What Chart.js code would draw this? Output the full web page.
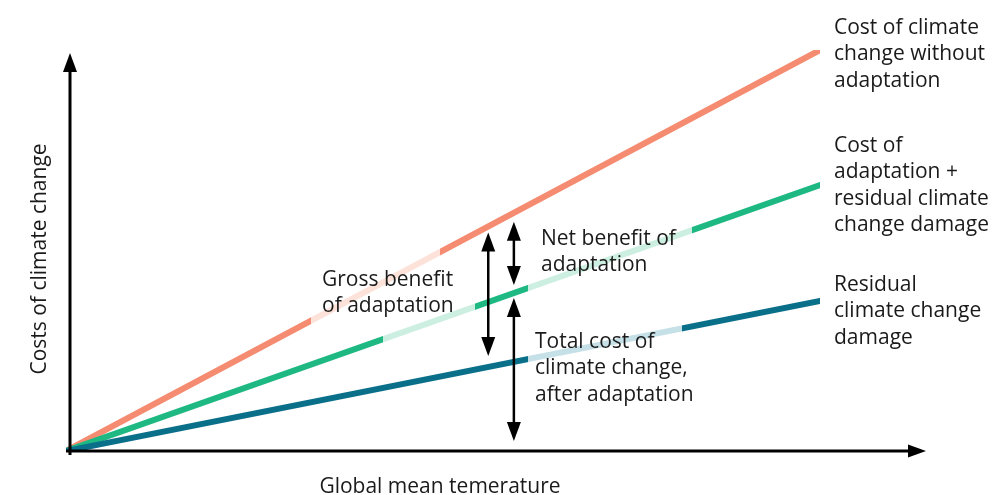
<!DOCTYPE html>
<html>
<head>
<meta charset="utf-8">
<script src="https://cdn.jsdelivr.net/npm/chart.js@4.4.1/dist/chart.umd.min.js"></script>
<style>
  html, body { margin: 0; padding: 0; background: #fff; }
  #wrap { width: 995px; height: 495px; }
</style>
</head>
<body>
<div id="wrap"><canvas id="myChart" width="995" height="495"></canvas></div>
<script>
// temperature (x) and cost (y), arbitrary units
let temp = [0, 100]
let costNoAdapt = [0, 100]
let costAdaptResidual = [0, 66.3]
let costResidual = [0, 37.4]

// x ranges where the lines sit behind a text label (faded)
let fadeNoAdapt = [[32.5, 49.6]]
let fadeAdaptResidual = [[42.0, 54.2], [61.3, 83.0]]
let fadeResidual = [[61.3, 81.7]]

// x position of the benefit arrows
let grossX = 56.0
let netX = 59.4

const FONT = '"Open Sans", "Noto Sans", sans-serif'

function pts(ys) {
    return temp.map((t, i) => ({ x: t, y: ys[i] }))
}

function fadedStroke(color, pale, ranges) {
    return function (ctx) {
        const chart = ctx.chart
        const area = chart.chartArea
        if (!area) return color
        const xs = chart.scales.x
        const g = chart.ctx.createLinearGradient(area.left - 10, 0, area.right + 10, 0)
        const w = area.right - area.left + 20
        const f = v => Math.min(1, Math.max(0, (xs.getPixelForValue(v) - area.left + 10) / w))
        g.addColorStop(0, color)
        ranges.forEach(r => {
            g.addColorStop(f(r[0]), color)
            g.addColorStop(f(r[0]), pale)
            g.addColorStop(f(r[1]), pale)
            g.addColorStop(f(r[1]), color)
        })
        g.addColorStop(1, color)
        return g
    }
}

function arrowHead(c, x, y, dir) {
    // dir: 'up', 'down', 'right'
    c.beginPath()
    if (dir === 'up') { c.moveTo(x, y); c.lineTo(x - 7, y + 19); c.lineTo(x + 7, y + 19) }
    if (dir === 'down') { c.moveTo(x, y); c.lineTo(x - 7, y - 19); c.lineTo(x + 7, y - 19) }
    if (dir === 'right') { c.moveTo(x, y); c.lineTo(x - 18, y - 6.5); c.lineTo(x - 18, y + 6.5) }
    c.closePath()
    c.fill()
}

function doubleArrow(c, x, y1, y2) {
    c.beginPath()
    c.moveTo(x, y1 + 10)
    c.lineTo(x, y2 - 10)
    c.stroke()
    arrowHead(c, x, y1, 'up')
    arrowHead(c, x, y2, 'down')
}

const texts = [
    { lines: ['Cost of climate', 'change without', 'adaptation'], x: 834, y: 28 },
    { lines: ['Cost of', 'adaptation +', 'residual climate', 'change damage'], x: 834, y: 146 },
    { lines: ['Residual', 'climate change', 'damage'], x: 834, y: 285 },
    { lines: ['Gross benefit', 'of adaptation'], x: 322, y: 280 },
    { lines: ['Net benefit of', 'adaptation'], x: 541, y: 239 },
    { lines: ['Total cost of', 'climate change,', 'after adaptation'], x: 535, y: 342 }
]

const drawExtras = {
    id: 'drawExtras',
    afterDatasetsDraw(chart) {
        const c = chart.ctx
        const xs = chart.scales.x
        const ys = chart.scales.y
        const x0 = xs.getPixelForValue(0)
        const y0 = ys.getPixelForValue(0)
        c.save()
        c.fillStyle = '#000'
        c.strokeStyle = '#000'

        // axes
        c.lineWidth = 3
        c.beginPath()
        c.moveTo(x0 + 4, y0 + 4)
        c.lineTo(x0 + 4, 68)
        c.moveTo(x0, y0)
        c.lineTo(910, y0)
        c.stroke()
        arrowHead(c, x0 + 4, 53, 'up')
        arrowHead(c, 926, y0, 'right')

        // benefit arrows
        c.lineWidth = 2.5
        const slope = (arr, v) => arr[1] * v / temp[1]
        let gx = xs.getPixelForValue(grossX)
        doubleArrow(c, gx, ys.getPixelForValue(slope(costNoAdapt, grossX)) + 6,
            ys.getPixelForValue(slope(costResidual, grossX)) - 11)
        let nx = xs.getPixelForValue(netX)
        doubleArrow(c, nx, ys.getPixelForValue(slope(costNoAdapt, netX)) + 9,
            ys.getPixelForValue(slope(costAdaptResidual, netX)) - 8)
        doubleArrow(c, nx, ys.getPixelForValue(slope(costAdaptResidual, netX)) + 5,
            y0 - 10)

        // labels
        c.font = '21px ' + FONT
        c.textBaseline = 'middle'
        c.textAlign = 'left'
        c.fillStyle = '#1a1a1a'
        texts.forEach(t => {
            t.lines.forEach((l, i) => c.fillText(l, t.x, t.y + i * 26.5))
        })

        // axis titles
        c.textAlign = 'center'
        c.fillText('Global mean temerature', 440, 487)
        c.translate(40, 259)
        c.rotate(-Math.PI / 2)
        c.fillText('Costs of climate change', 0, 0)
        c.restore()
    }
}

const data = {
    datasets: [
        {
            label: 'Residual climate change damage',
            data: pts(costResidual),
            borderColor: fadedStroke('rgb(10,112,138)', 'rgb(198,224,232)', fadeResidual)
        },
        {
            label: 'Cost of adaptation + residual climate change damage',
            data: pts(costAdaptResidual),
            borderColor: fadedStroke('rgb(30,184,131)', 'rgb(204,239,225)', fadeAdaptResidual)
        },
        {
            label: 'Cost of climate change without adaptation',
            data: pts(costNoAdapt),
            borderColor: fadedStroke('rgb(245,139,112)', 'rgb(253,226,217)', fadeNoAdapt)
        }
    ]
}

const config = {
    type: 'line',
    data: data,
    options: {
        responsive: false,
        animation: false,
        layout: { padding: { left: 66, right: 175, top: 50, bottom: 44 } },
        elements: {
            line: { borderWidth: 6, borderCapStyle: 'round', tension: 0 },
            point: { radius: 0 }
        },
        scales: {
            x: { type: 'linear', min: 0, max: 100, display: false },
            y: { type: 'linear', min: 0, max: 100, display: false }
        },
        plugins: {
            legend: { display: false },
            tooltip: { enabled: false }
        }
    },
    plugins: [drawExtras]
}

const myChart = new Chart(document.getElementById('myChart').getContext('2d'), config)
</script>
</body>
</html>
